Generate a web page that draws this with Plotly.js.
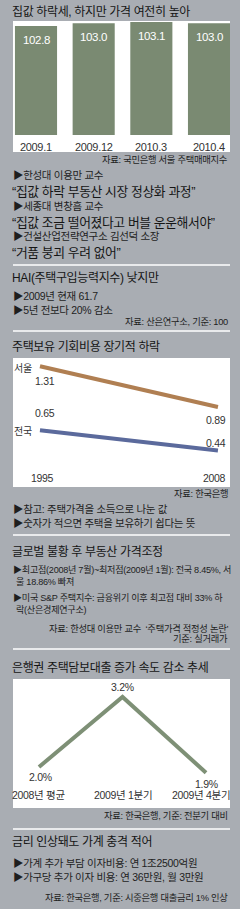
<!DOCTYPE html>
<html><head><meta charset="utf-8">
<script src="https://cdn.plot.ly/plotly-3.0.1.min.js"></script>
<style>html,body{margin:0;padding:0;background:#a9adb3;}#c{width:240px;height:909px;}
.annotation-text{letter-spacing:-0.03em;}</style>
</head><body><div id="c"></div>
<script>
// ---- data ----
const barCats = ['2009.1', '2009.12', '2010.3', '2010.4'];
const barVals = [102.8, 103.0, 103.1, 103.0];

const costYears = [1995, 2008];
const costSeoul = [1.31, 0.89];
const costNation = [0.65, 0.44];

const loanCats = ['2008년 평균', '2009년 1분기', '2009년 4분기'];
const loanVals = [2.0, 3.2, 1.9];

// ---- layout helpers ----
const W = 240, H = 909;
const px = x => x / W;
const py = y => 1 - y / H;
const F = 'Liberation Sans, Noto Sans CJK KR, sans-serif';
const FK = 'Noto Sans CJK KR, sans-serif';

const traces = [
  {type: 'bar', x: barCats, y: barVals, xaxis: 'x', yaxis: 'y',
   marker: {color: '#7a8a72'}, hoverinfo: 'none', showlegend: false},
  {type: 'scatter', mode: 'lines', x: costYears, y: costSeoul, xaxis: 'x2', yaxis: 'y2',
   line: {color: '#b07f52', width: 4}, showlegend: false, hoverinfo: 'none'},
  {type: 'scatter', mode: 'lines', x: costYears, y: costNation, xaxis: 'x2', yaxis: 'y2',
   line: {color: '#5b6a9c', width: 4}, showlegend: false, hoverinfo: 'none'},
  {type: 'scatter', mode: 'lines', x: loanCats, y: loanVals, xaxis: 'x3', yaxis: 'y3',
   line: {color: '#7e9076', width: 4}, showlegend: false, hoverinfo: 'none'}
];

const hid = {visible: false, showgrid: false, zeroline: false, fixedrange: true};
const xd = [px(13), px(230)];

const ann = [];
function txt(text, x, y, size, anchor, color, family) {
  ann.push({text: text, xref: 'paper', yref: 'paper', x: px(x), y: py(y),
    xanchor: anchor || 'left', yanchor: 'middle', showarrow: false, borderpad: 0,
    font: {size: size, color: color || '#1e1e1e', family: family || F}});
}
// titles
[['집값 하락세, 하지만 가격 여전히 높아', 12], ['HAI(주택구입능력지수) 낮지만', 278],
 ['주택보유 기회비용 장기적 하락', 347], ['글로벌 불황 후 부동산 가격조정', 552],
 ['은행권 주택담보대출 증가 속도 감소 추세', 667], ['금리 인상돼도 가계 충격 적어', 842]]
 .forEach(t => txt(t[0], 11, t[1], 12, 'left', '#151515'));
// bullets
[['▶한성대 이용만 교수', 175, 12], ['▶세종대 변창흠 교수', 206, 12],
 ['▶건설산업전략연구소 김선덕 소장', 236, 12], ['▶2009년 현재 61.7', 296, 12],
 ['▶5년 전보다 20% 감소', 310, 12], ['▶참고: 주택가격을 소득으로 나눈 값', 509, 12],
 ['▶숫자가 적으면 주택을 보유하기 쉽다는 뜻', 523, 12],
 ['▶가계 추가 부담 이자비용: 연 1조2500억원', 863, 12],
 ['▶가구당 추가 이자 비용: 연 36만원, 월 3만원', 877, 12]]
 .forEach(t => txt(t[0], t[2], t[1], 10.5, 'left', '#1e1e1e'));
[['▶최고점(2008년 7월)~최저점(2009년 1월): 전국 8.45%, 서', 569, 12],
 ['울 18.86% 빠져', 582, 15],
 ['▶미국 S&amp;P 주택지수: 금융위기 이후 최고점 대비 33% 하', 597, 12],
 ['락(산은경제연구소)', 609, 15]]
 .forEach(t => txt(t[0], t[2], t[1], 9.1, 'left', '#1e1e1e'));
// quotes
[['“집값 하락 부동산 시장 정상화 과정”', 191], ['“집값 조금 떨어졌다고 버블 운운해서야”', 222],
 ['“거품 붕괴 우려 없어”', 252]].forEach(t => txt(t[0], 11, t[1], 12.8, 'left', '#151515'));
// sources
[['자료: 국민은행 서울 주택매매지수', 159], ['자료: 산은연구소, 기준: 100', 322],
 ['자료: 한국은행', 494], ['자료: 한성대 이용만 교수  ‘주택가격 적정성 논란’', 628],
 ['기준: 실거래가', 639], ['자료: 한국은행, 기준: 전분기 대비', 815],
 ['자료: 한국은행, 기준: 시중은행 대출금리 1% 인상', 897]]
 .forEach(t => txt(t[0], 229, t[1], 9.3, 'right', '#1e1e1e'));

// bar chart labels
barCats.forEach((c, i) => {
  ann.push({text: barVals[i].toFixed(1), xref: 'x', yref: 'y', x: i, y: barVals[i],
    yshift: -14, yanchor: 'middle', showarrow: false, font: {size: 11.5, color: '#ffffff', family: F}});
  ann.push({text: c, xref: 'x', yref: 'paper', x: i, y: py(147), yanchor: 'middle',
    showarrow: false, font: {size: 11, color: '#333333', family: F}});
});

// cost chart labels
ann.push({text: '서울', xref: 'x2', yref: 'y2', x: costYears[0], y: costSeoul[0], xanchor: 'right',
  xshift: -6, yshift: -1, showarrow: false, font: {size: 10, color: '#333', family: FK}});
ann.push({text: '전국', xref: 'x2', yref: 'y2', x: costYears[0], y: costNation[0], xanchor: 'right',
  xshift: -6, showarrow: false, font: {size: 10, color: '#333', family: FK}});
const costShift = [[-15, -13], [17, 8]];
[costSeoul, costNation].forEach((s, k) => {
  s.forEach((v, i) => {
    ann.push({text: v.toFixed(2), xref: 'x2', yref: 'y2', x: costYears[i], y: v,
      xshift: i === 0 ? 5 : -2, yshift: costShift[k][i], showarrow: false,
      font: {size: 10.5, color: '#333', family: F}});
  });
});
costYears.forEach((yr, i) => {
  ann.push({text: String(yr), xref: 'x2', yref: 'paper', x: yr, y: py(478), xshift: i === 0 ? 3 : -3,
    showarrow: false, font: {size: 10.5, color: '#333', family: F}});
});

// loan chart labels
const loanShift = [-10, 10, -11];
loanCats.forEach((c, i) => {
  ann.push({text: loanVals[i].toFixed(1) + '%', xref: 'x3', yref: 'y3', x: c, y: loanVals[i],
    yshift: loanShift[i], xshift: i === 0 ? 2 : 0, showarrow: false, font: {size: 10.5, color: '#333', family: F}});
  ann.push({text: c, xref: 'x3', yref: 'paper', x: c, y: py(803), xshift: i === 2 ? -5 : 0,
    showarrow: false, font: {size: 10.5, color: '#333', family: F}});
});

// shapes: white panels and separators
const shapes = [];
[[21, 152], [358, 487], [679, 808]].forEach(p => shapes.push({type: 'rect', xref: 'paper', yref: 'paper',
  x0: px(13), x1: px(230), y0: py(p[1]), y1: py(p[0]), fillcolor: '#ffffff', line: {width: 0}, layer: 'below'}));
[265, 331, 535, 649, 829].forEach(y => shapes.push({type: 'line', xref: 'paper', yref: 'paper',
  x0: px(13), x1: px(230), y0: py(y), y1: py(y), line: {color: '#ffffff', width: 1.5}}));

const layout = {
  width: W, height: H, margin: {l: 0, r: 0, t: 0, b: 0},
  paper_bgcolor: '#a9adb3', plot_bgcolor: 'rgba(0,0,0,0)',
  showlegend: false, bargap: 0.27,
  xaxis: Object.assign({}, hid, {domain: xd, type: 'category', range: [-0.399, 3.364], anchor: 'y'}),
  yaxis: Object.assign({}, hid, {domain: [py(135), py(21)], range: [94.6, 103.175], anchor: 'x'}),
  xaxis2: Object.assign({}, hid, {domain: xd, range: [1993.03, 2008.88], anchor: 'y2'}),
  yaxis2: Object.assign({}, hid, {domain: [py(487), py(358)], range: [0.064, 1.395], anchor: 'x2'}),
  xaxis3: Object.assign({}, hid, {domain: xd, type: 'category', range: [-0.311, 2.287], anchor: 'y3'}),
  yaxis3: Object.assign({}, hid, {domain: [py(808), py(679)], range: [1.297, 3.509], anchor: 'x3'}),
  annotations: ann, shapes: shapes
};
Plotly.newPlot('c', traces, layout, {staticPlot: true, displayModeBar: false});
</script></body></html>
